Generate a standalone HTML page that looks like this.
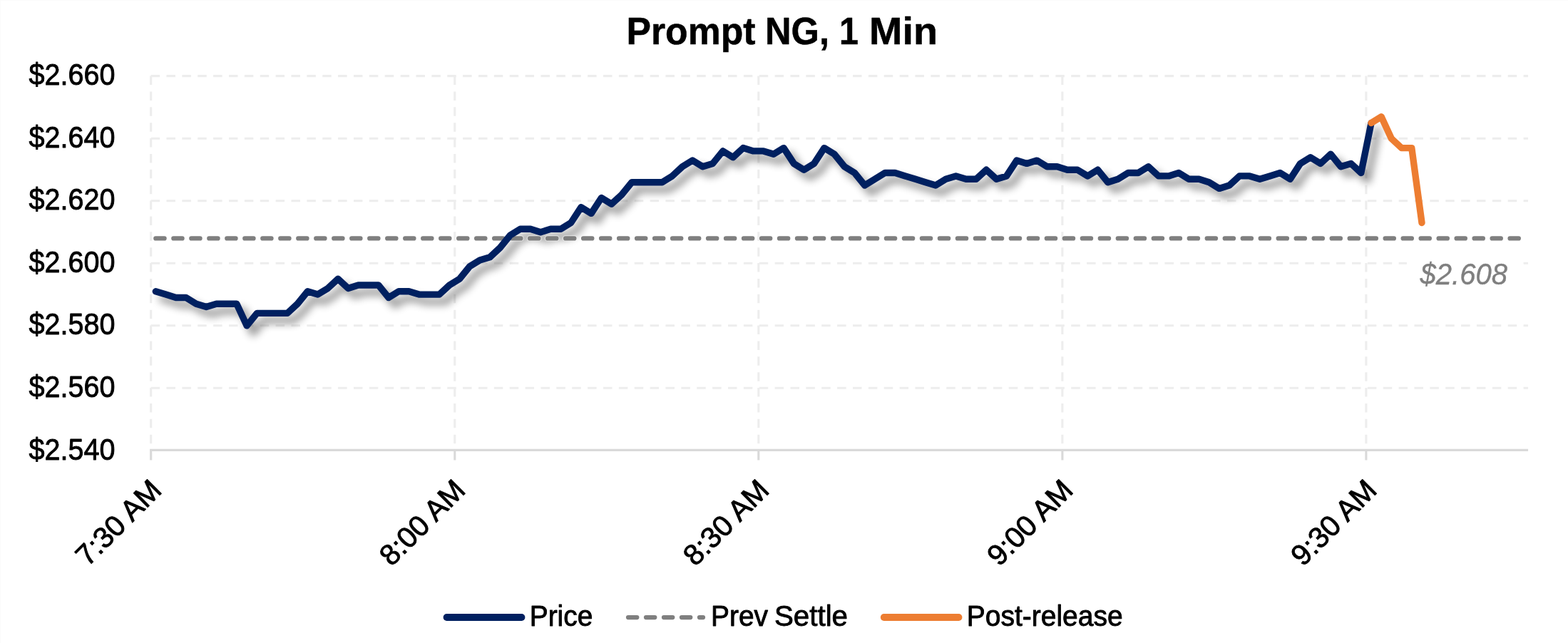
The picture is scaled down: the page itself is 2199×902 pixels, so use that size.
<!DOCTYPE html>
<html lang="en"><head><meta charset="utf-8"><title>Prompt NG, 1 Min</title>
<style>html,body{margin:0;padding:0;background:#fff}body{width:2199px;height:902px;overflow:hidden}svg{display:block}text{font-family:"Liberation Sans",sans-serif;fill:#000;stroke:#000;stroke-width:0.9px;stroke-linejoin:round}text.b{stroke-width:0.5px}text.g{fill:#7F7F7F;stroke:#7F7F7F;stroke-width:0.4px}</style>
</head><body>
<svg width="2199" height="902" viewBox="0 0 2199 902">
<defs><filter id="sh" x="-5%" y="-30%" width="110%" height="160%" filterUnits="objectBoundingBox"><feGaussianBlur in="SourceAlpha" stdDeviation="6"/><feOffset dx="9" dy="10"/><feComponentTransfer><feFuncA type="linear" slope="0.42"/></feComponentTransfer></filter></defs>
<rect width="2199" height="902" fill="#fff"/>
<path d="M0 0.5H2199M0.5 0V902" stroke="#FBFBFB" stroke-width="1" fill="none"/>
<g stroke="#EDEDED" stroke-width="3.1" stroke-dasharray="12.5 9.375" fill="none">
<line x1="211.6" y1="106.6" x2="2143.1" y2="106.6"/>
<line x1="211.6" y1="194.3" x2="2143.1" y2="194.3"/>
<line x1="211.6" y1="281.8" x2="2143.1" y2="281.8"/>
<line x1="211.6" y1="369.2" x2="2143.1" y2="369.2"/>
<line x1="211.6" y1="456.7" x2="2143.1" y2="456.7"/>
<line x1="211.6" y1="544.2" x2="2143.1" y2="544.2"/>
<line x1="211.7" y1="106.5" x2="211.7" y2="629.9"/>
<line x1="637.8" y1="106.5" x2="637.8" y2="629.9"/>
<line x1="1063.8" y1="106.5" x2="1063.8" y2="629.9"/>
<line x1="1489.9" y1="106.5" x2="1489.9" y2="629.9"/>
<line x1="1915.9" y1="106.5" x2="1915.9" y2="629.9"/>
</g>
<g stroke="#D9D9D9" stroke-width="3.1" fill="none">
<line x1="210.1" y1="631.4" x2="2143.1" y2="631.4"/>
<line x1="211.7" y1="631.4" x2="211.7" y2="645.5"/>
<line x1="637.8" y1="631.4" x2="637.8" y2="645.5"/>
<line x1="1063.8" y1="631.4" x2="1063.8" y2="645.5"/>
<line x1="1489.9" y1="631.4" x2="1489.9" y2="645.5"/>
<line x1="1915.9" y1="631.4" x2="1915.9" y2="645.5"/>
</g>
<polyline points="218.3,408.8 232.5,413.1 246.7,417.5 260.9,417.5 275.1,426.3 289.3,430.6 303.5,426.3 317.7,426.3 331.9,426.3 346.2,456.9 360.4,439.4 374.6,439.4 388.8,439.4 403.0,439.4 417.2,426.3 431.4,408.8 445.6,413.1 459.8,404.4 474.0,391.3 488.2,404.4 502.4,400.0 516.6,400.0 530.8,400.0 545.0,417.5 559.2,408.8 573.5,408.8 587.7,413.1 601.9,413.1 616.1,413.1 630.3,400.0 644.5,391.3 658.7,373.8 672.9,365.0 687.1,360.7 701.3,347.5 715.5,330.0 729.7,321.3 743.9,321.3 758.1,325.7 772.3,321.3 786.5,321.3 800.7,312.5 815.0,290.7 829.2,299.4 843.4,277.5 857.6,286.3 871.8,273.2 886.0,255.7 900.2,255.7 914.4,255.7 928.6,255.7 942.8,246.9 957.0,233.8 971.2,225.1 985.4,233.8 999.6,229.4 1013.8,211.9 1028.0,220.7 1042.2,207.6 1056.5,211.9 1070.7,211.9 1084.9,216.3 1099.1,207.6 1113.3,229.4 1127.5,238.2 1141.7,229.4 1155.9,207.6 1170.1,216.3 1184.3,233.8 1198.5,242.5 1212.7,260.0 1226.9,251.3 1241.1,242.5 1255.3,242.5 1269.5,246.9 1283.8,251.3 1298.0,255.7 1312.2,260.0 1326.4,251.3 1340.6,246.9 1354.8,251.3 1369.0,251.3 1383.2,238.2 1397.4,251.3 1411.6,246.9 1425.8,225.1 1440.0,229.4 1454.2,225.1 1468.4,233.8 1482.6,233.8 1496.8,238.2 1511.0,238.2 1525.3,246.9 1539.5,238.2 1553.7,255.7 1567.9,251.3 1582.1,242.5 1596.3,242.5 1610.5,233.8 1624.7,246.9 1638.9,246.9 1653.1,242.5 1667.3,251.3 1681.5,251.3 1695.7,255.7 1709.9,264.4 1724.1,260.0 1738.3,246.9 1752.5,246.9 1766.8,251.3 1781.0,246.9 1795.2,242.5 1809.4,251.3 1823.6,229.4 1837.8,220.7 1852.0,229.4 1866.2,216.3 1880.4,233.8 1894.6,229.4 1908.8,242.5 1923.0,172.6" fill="none" stroke="#000" stroke-width="9.4" stroke-linecap="round" stroke-linejoin="round" filter="url(#sh)"/>
<line x1="218.3" y1="334.4" x2="2136.1" y2="334.4" stroke="#fff" stroke-opacity="0.45" stroke-width="8.8" stroke-linecap="round" stroke-dasharray="12.3 12.69"/>
<line x1="218.3" y1="334.4" x2="2136.1" y2="334.4" stroke="#7F7F7F" stroke-width="6.25" stroke-linecap="round" stroke-dasharray="12.3 12.69"/>
<polyline points="218.3,408.8 232.5,413.1 246.7,417.5 260.9,417.5 275.1,426.3 289.3,430.6 303.5,426.3 317.7,426.3 331.9,426.3 346.2,456.9 360.4,439.4 374.6,439.4 388.8,439.4 403.0,439.4 417.2,426.3 431.4,408.8 445.6,413.1 459.8,404.4 474.0,391.3 488.2,404.4 502.4,400.0 516.6,400.0 530.8,400.0 545.0,417.5 559.2,408.8 573.5,408.8 587.7,413.1 601.9,413.1 616.1,413.1 630.3,400.0 644.5,391.3 658.7,373.8 672.9,365.0 687.1,360.7 701.3,347.5 715.5,330.0 729.7,321.3 743.9,321.3 758.1,325.7 772.3,321.3 786.5,321.3 800.7,312.5 815.0,290.7 829.2,299.4 843.4,277.5 857.6,286.3 871.8,273.2 886.0,255.7 900.2,255.7 914.4,255.7 928.6,255.7 942.8,246.9 957.0,233.8 971.2,225.1 985.4,233.8 999.6,229.4 1013.8,211.9 1028.0,220.7 1042.2,207.6 1056.5,211.9 1070.7,211.9 1084.9,216.3 1099.1,207.6 1113.3,229.4 1127.5,238.2 1141.7,229.4 1155.9,207.6 1170.1,216.3 1184.3,233.8 1198.5,242.5 1212.7,260.0 1226.9,251.3 1241.1,242.5 1255.3,242.5 1269.5,246.9 1283.8,251.3 1298.0,255.7 1312.2,260.0 1326.4,251.3 1340.6,246.9 1354.8,251.3 1369.0,251.3 1383.2,238.2 1397.4,251.3 1411.6,246.9 1425.8,225.1 1440.0,229.4 1454.2,225.1 1468.4,233.8 1482.6,233.8 1496.8,238.2 1511.0,238.2 1525.3,246.9 1539.5,238.2 1553.7,255.7 1567.9,251.3 1582.1,242.5 1596.3,242.5 1610.5,233.8 1624.7,246.9 1638.9,246.9 1653.1,242.5 1667.3,251.3 1681.5,251.3 1695.7,255.7 1709.9,264.4 1724.1,260.0 1738.3,246.9 1752.5,246.9 1766.8,251.3 1781.0,246.9 1795.2,242.5 1809.4,251.3 1823.6,229.4 1837.8,220.7 1852.0,229.4 1866.2,216.3 1880.4,233.8 1894.6,229.4 1908.8,242.5 1923.0,172.6" fill="none" stroke="#002060" stroke-width="9.4" stroke-linecap="round" stroke-linejoin="round"/>
<polyline points="1923.0,172.6 1937.2,163.8 1951.4,194.4 1965.6,207.6 1979.8,207.6 1994.0,312.5" fill="none" stroke="#ED7D31" stroke-width="9.4" stroke-linecap="round" stroke-linejoin="round"/>
<rect x="1973" y="362" width="162.1" height="48" fill="#fff"/>
<text x="1991.5" y="399.2" font-size="43.2" textLength="122.5" lengthAdjust="spacingAndGlyphs" font-style="italic" class="g">$2.608</text>
<text y="62.0" font-size="53.4" font-weight="bold" class="b"><tspan x="878.5" textLength="181" lengthAdjust="spacingAndGlyphs">Prompt</tspan> <tspan x="1073" textLength="90" lengthAdjust="spacingAndGlyphs">NG,</tspan> <tspan x="1177" textLength="27" lengthAdjust="spacingAndGlyphs">1</tspan> <tspan x="1219" textLength="96" lengthAdjust="spacingAndGlyphs">Min</tspan></text>
<text x="40.5" y="119.1" font-size="42.0" textLength="121" lengthAdjust="spacingAndGlyphs">$2.660</text>
<text x="40.5" y="206.7" font-size="42.0" textLength="121" lengthAdjust="spacingAndGlyphs">$2.640</text>
<text x="40.5" y="294.3" font-size="42.0" textLength="121" lengthAdjust="spacingAndGlyphs">$2.620</text>
<text x="40.5" y="381.8" font-size="42.0" textLength="121" lengthAdjust="spacingAndGlyphs">$2.600</text>
<text x="40.5" y="469.4" font-size="42.0" textLength="121" lengthAdjust="spacingAndGlyphs">$2.580</text>
<text x="40.5" y="557.0" font-size="42.0" textLength="121" lengthAdjust="spacingAndGlyphs">$2.560</text>
<text x="40.5" y="644.6" font-size="42.0" textLength="121" lengthAdjust="spacingAndGlyphs">$2.540</text>
<text transform="translate(228.7,690.0) rotate(-45)" text-anchor="end" font-size="41" textLength="149.5" lengthAdjust="spacingAndGlyphs">7:30 AM</text>
<text transform="translate(654.8,690.0) rotate(-45)" text-anchor="end" font-size="41" textLength="149.5" lengthAdjust="spacingAndGlyphs">8:00 AM</text>
<text transform="translate(1080.8,690.0) rotate(-45)" text-anchor="end" font-size="41" textLength="149.5" lengthAdjust="spacingAndGlyphs">8:30 AM</text>
<text transform="translate(1506.9,690.0) rotate(-45)" text-anchor="end" font-size="41" textLength="149.5" lengthAdjust="spacingAndGlyphs">9:00 AM</text>
<text transform="translate(1932.9,690.0) rotate(-45)" text-anchor="end" font-size="41" textLength="149.5" lengthAdjust="spacingAndGlyphs">9:30 AM</text>
<line x1="626.5" y1="866" x2="731.5" y2="866" stroke="#002060" stroke-width="9.8" stroke-linecap="round"/>
<line x1="881" y1="866" x2="986" y2="866" stroke="#7F7F7F" stroke-width="6.25" stroke-linecap="round" stroke-dasharray="12.3 12.69"/>
<line x1="1239.7" y1="866" x2="1344.5" y2="866" stroke="#ED7D31" stroke-width="9.8" stroke-linecap="round"/>
<text x="742.7" y="877.9" font-size="40.4" textLength="88.7" lengthAdjust="spacingAndGlyphs">Price</text>
<text y="877.9" font-size="40.4"><tspan x="997" textLength="80" lengthAdjust="spacingAndGlyphs">Prev</tspan> <tspan x="1086" textLength="103" lengthAdjust="spacingAndGlyphs">Settle</tspan></text>
<text x="1355.8" y="877.9" font-size="40.4" textLength="218.8" lengthAdjust="spacingAndGlyphs">Post-release</text>
</svg></body></html>
